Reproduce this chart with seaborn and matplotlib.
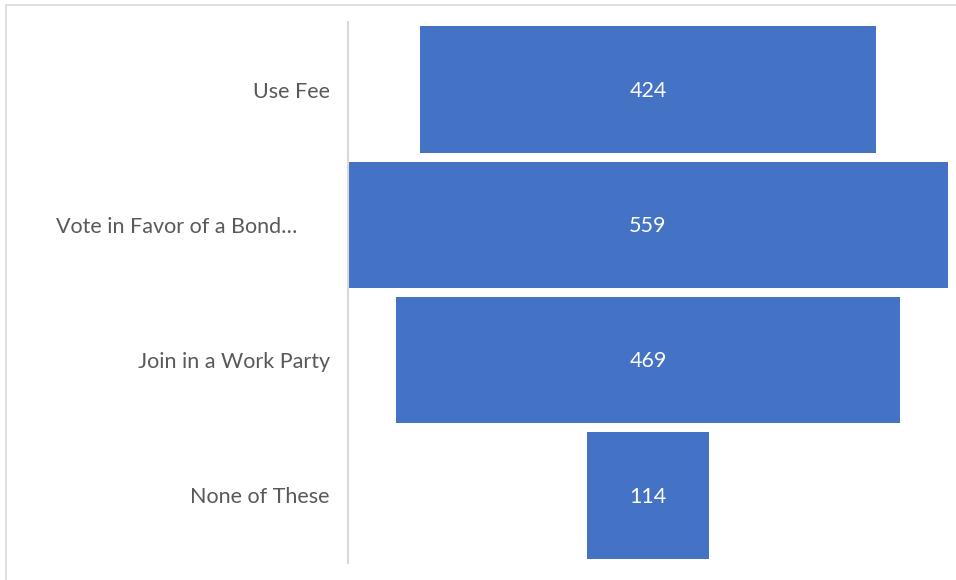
import matplotlib
matplotlib.use("Agg")
import matplotlib.pyplot as plt
import matplotlib.transforms as mtransforms
import seaborn as sns
import pandas as pd
from matplotlib.patches import Rectangle

categories = ["Use Fee", "Vote in Favor of a Bond\u2026", "Join in a Work Party", "None of These"]
counts = [424, 559, 469, 114]

sns.set_theme(style="white")
plt.rcParams["font.family"] = ["Lato", "DejaVu Sans"]

df = pd.DataFrame({"option": categories, "count": counts})

fig = plt.figure(figsize=(9.56, 5.8), dpi=100)
ax = fig.add_axes([348 / 956, 1 - 563 / 580, 600 / 956, 541 / 580])

sns.barplot(data=df, x="count", y="option", color="#4472C4", saturation=1,
            width=0.937, ax=ax, orient="h")

# center each bar to form the funnel
peak = max(counts)
for patch, v in zip(ax.patches, counts):
    patch.set_x((peak - v) / 2)
    patch.set_edgecolor("none")
    ax.text((peak - v) / 2 + v / 2, patch.get_y() + patch.get_height() / 2 + 0.01, str(v),
            ha="center", va="center", color="white", fontsize=15.5)

ax.set_xlim(0, peak)
ax.set_ylim(3.5, -0.5)
ax.set_xlabel("")
ax.set_ylabel("")
ax.set_xticks([])
ax.tick_params(axis="y", length=0, pad=13, labelsize=15.5, labelcolor="#595959")
for side in ["top", "right", "bottom"]:
    ax.spines[side].set_visible(False)
ax.spines["left"].set_color("#D9D9D9")
ax.spines["left"].set_linewidth(1.5)

# the truncated label sits a little further left in its text box
for lbl in ax.get_yticklabels():
    if lbl.get_text().endswith("\u2026"):
        lbl.set_transform(lbl.get_transform() +
                          mtransforms.ScaledTranslation(-33 / 100, 0, fig.dpi_scale_trans))

# chart frame
fig.patches.append(Rectangle((6 / 956, -0.1), 1.1, 1.1 - 5.5 / 580,
                             transform=fig.transFigure, fill=False,
                             edgecolor="#D9D9D9", linewidth=1.2))

fig.savefig("out.png", dpi=100)
